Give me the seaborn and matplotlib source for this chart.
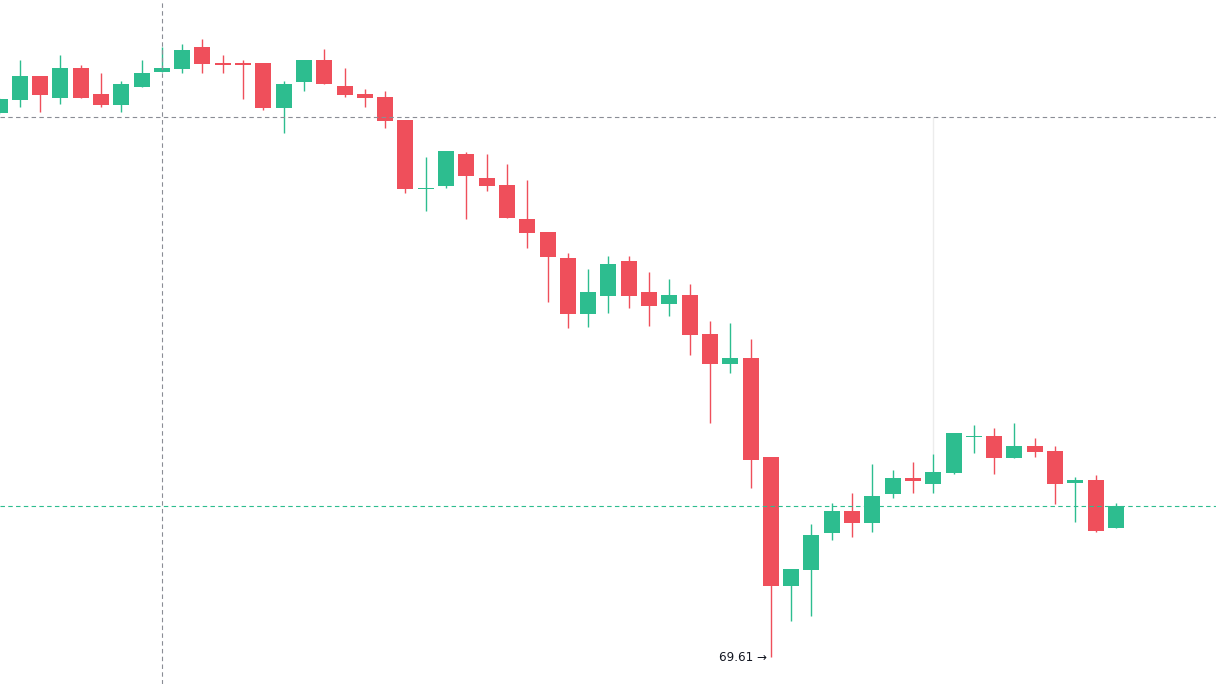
import numpy as np
import pandas as pd
import matplotlib.pyplot as plt
import seaborn as sns

# candle values (price units)
opens = [75.05, 75.18, 75.42, 75.20, 75.50, 75.24, 75.13, 75.31, 75.46, 75.49,
         75.71, 75.55, 75.55, 75.55, 75.10, 75.36, 75.58, 75.32, 75.24, 75.21,
         74.98, 74.29, 74.32, 74.64, 74.40, 74.33, 73.99, 73.86, 73.60, 73.04,
         73.22, 73.57, 73.26, 73.14, 73.23, 72.84, 72.54, 72.60, 71.61, 70.32,
         70.48, 70.85, 71.07, 70.95, 71.24, 71.40, 71.34, 71.45, 71.81, 71.82,
         71.60, 71.72, 71.67, 71.35, 71.38, 70.90]
highs = [75.20, 75.58, 75.42, 75.63, 75.53, 75.45, 75.37, 75.58, 75.71, 75.74,
         75.79, 75.63, 75.58, 75.55, 75.37, 75.58, 75.69, 75.50, 75.29, 75.27,
         74.98, 74.61, 74.67, 74.66, 74.64, 74.54, 74.38, 73.86, 73.65, 73.49,
         73.62, 73.62, 73.46, 73.39, 73.34, 72.97, 72.95, 72.79, 71.61, 70.49,
         70.94, 71.15, 71.25, 71.54, 71.48, 71.56, 71.64, 71.85, 71.93, 71.90,
         71.95, 71.80, 71.72, 71.41, 71.43, 71.15]
lows = [75.04, 75.11, 75.06, 75.14, 75.20, 75.11, 75.06, 75.31, 75.46, 75.45,
        75.45, 75.45, 75.19, 75.08, 74.85, 75.27, 75.34, 75.21, 75.11, 74.90,
        74.25, 74.07, 74.30, 73.99, 74.27, 74.00, 73.70, 73.16, 72.90, 72.91,
        73.05, 73.10, 72.92, 73.02, 72.63, 71.95, 72.45, 71.30, 69.61, 69.97,
        70.02, 70.78, 70.81, 70.86, 71.20, 71.25, 71.25, 71.44, 71.65, 71.44,
        71.60, 71.61, 71.14, 70.96, 70.86, 70.90]
closes = [75.19, 75.42, 75.23, 75.50, 75.20, 75.13, 75.34, 75.45, 75.50, 75.68,
          75.54, 75.53, 75.53, 75.10, 75.34, 75.58, 75.34, 75.23, 75.20, 74.97,
          74.29, 74.30, 74.67, 74.42, 74.32, 74.00, 73.85, 73.61, 73.04, 73.26,
          73.54, 73.22, 73.12, 73.23, 72.83, 72.54, 72.60, 71.58, 70.32, 70.49,
          70.83, 71.07, 70.95, 71.22, 71.40, 71.37, 71.46, 71.85, 71.82, 71.60,
          71.72, 71.66, 71.34, 71.38, 70.87, 71.12]

low_label = "69.61"
low_index = 38
crosshair_index = 8
crosshair_price = 75.01
marker_index = 46

up_color = "#2dbd8f"
down_color = "#ef4f5b"

df = pd.DataFrame({"open": opens, "high": highs, "low": lows, "close": closes})
df["idx"] = np.arange(len(df))
df["color"] = np.where(df["close"] >= df["open"], up_color, down_color)
df["body_bottom"] = df[["open", "close"]].min(axis=1)
df["body_height"] = (df["close"] - df["open"]).abs().clip(lower=0.015)

sns.set_theme(style="white")
fig = plt.figure(figsize=(12.16, 6.84), dpi=100)
ax = fig.add_axes([0, 0, 1, 1])

# wicks then bodies
ax.vlines(df["idx"], df["low"], df["high"], colors=df["color"], linewidth=1.0, zorder=2)
ax.bar(df["idx"], df["body_height"], bottom=df["body_bottom"], width=0.79,
       color=df["color"], linewidth=0, zorder=3)

# faint separator line
ax.vlines(marker_index, highs[marker_index], crosshair_price, colors="#ececec",
          linewidth=1.0, zorder=1)

# crosshair + last price line
ax.axvline(crosshair_index, color="#8a8d95", linestyle=(0, (4, 3)), linewidth=0.8, zorder=4)
ax.axhline(crosshair_price, color="#8a8d95", linestyle=(0, (4, 3)), linewidth=0.8, zorder=4)
ax.axhline(closes[-1], color=up_color, linestyle=(0, (4, 3)), linewidth=0.8, zorder=4)

ax.text(low_index - 0.17, lows[low_index], low_label + " →", ha="right", va="center",
        fontsize=8.6, color="#131722", zorder=5)

ax.set_xlim(0.025, 59.93)
ax.set_ylim(69.34, 76.18)
ax.set_xticks([])
ax.set_yticks([])
sns.despine(left=True, bottom=True)

fig.savefig("out.png", dpi=100)
